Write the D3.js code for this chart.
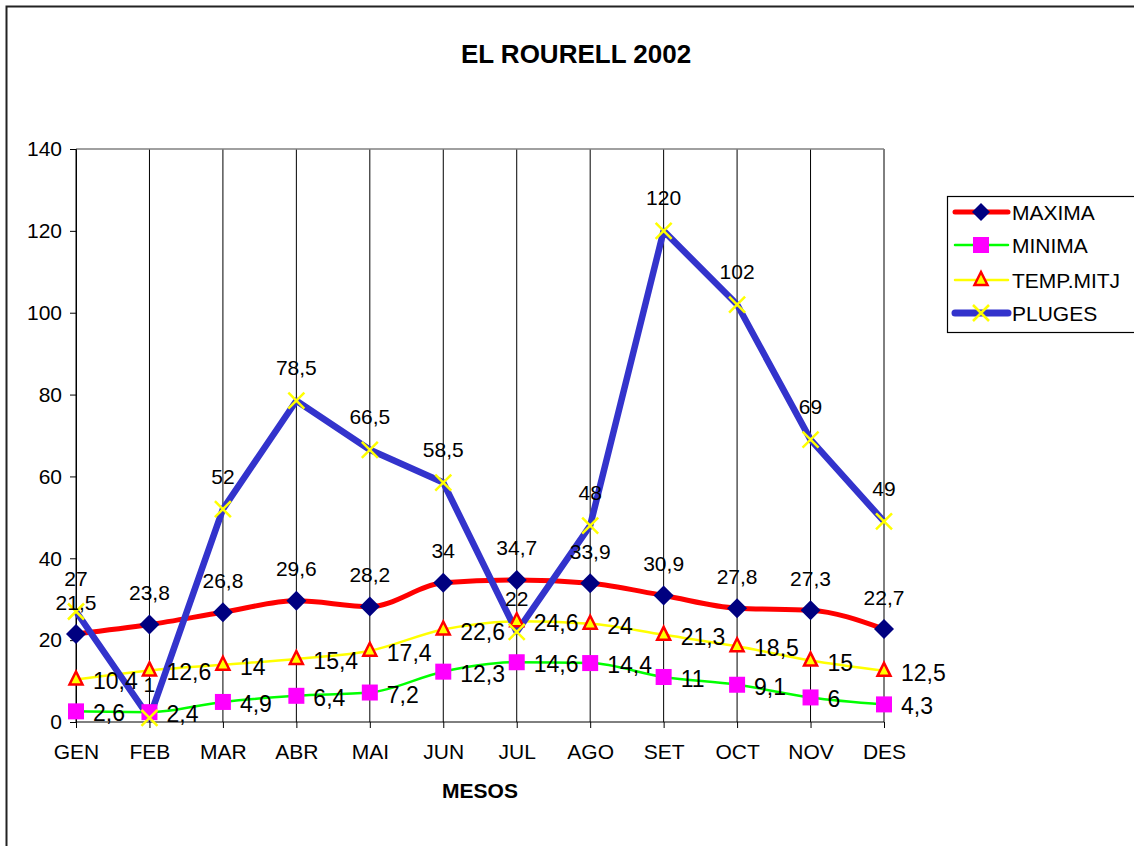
<!DOCTYPE html>
<html><head><meta charset="utf-8">
<script src="https://cdn.jsdelivr.net/npm/d3@7"></script>
<style>body{margin:0;background:#fff}svg{display:block;font-family:"Liberation Sans",Arial,sans-serif}</style>
</head><body>
<svg id="c" width="1134" height="846"></svg>
<script>
const months = ["GEN","FEB","MAR","ABR","MAI","JUN","JUL","AGO","SET","OCT","NOV","DES"];
const maxima = [21.5,23.8,26.8,29.6,28.2,34,34.7,33.9,30.9,27.8,27.3,22.7];
const minima = [2.6,2.4,4.9,6.4,7.2,12.3,14.6,14.4,11,9.1,6,4.3];
const tempMitj = [10.4,12.6,14,15.4,17.4,22.6,24.6,24,21.3,18.5,15,12.5];
const pluges = [27,1,52,78.5,66.5,58.5,22,48,120,102,69,49];
const yTicks = [0,20,40,60,80,100,120,140];
const seriesNames = ["MAXIMA","MINIMA","TEMP.MITJ","PLUGES"];

const svg = d3.select("#c");
const L = 76, R = 884, T = 149, B = 722;
const x = d3.scalePoint().domain(months).range([L, R]);
const y = d3.scaleLinear().domain([0, 140]).range([B, T]);
const fmt = v => String(v).replace(".", ",");
const FS = 21;

// outer frame
svg.append("path").attr("d", `M6.5,846 V6.5 H1134`).attr("fill","none").attr("stroke","#222").attr("stroke-width",2);

// title
svg.append("text").attr("x", 576).attr("y", 63).attr("text-anchor","middle")
  .attr("font-size", 26).attr("font-weight","bold").text("EL ROURELL 2002");

// vertical grid lines
svg.append("g").selectAll("line").data(months).join("line")
  .attr("x1", d => x(d)).attr("x2", d => x(d)).attr("y1", T).attr("y2", B)
  .attr("stroke", "#000").attr("stroke-width", 1);
// top border of plot
svg.append("line").attr("x1", L).attr("x2", R).attr("y1", T).attr("y2", T).attr("stroke","#808080").attr("stroke-width",1.5);

// axes
const yAxis = d3.axisLeft(y).tickValues(yTicks).tickSize(6).tickPadding(8);
const gy = svg.append("g").attr("transform", `translate(${L},0)`).call(yAxis);
gy.select(".domain").attr("stroke","#000");
gy.selectAll("text").attr("font-size", FS).attr("font-family","Liberation Sans, Arial, sans-serif").attr("fill","#000");
const xAxis = d3.axisBottom(x).tickSize(6).tickPadding(16);
const gx = svg.append("g").attr("transform", `translate(0,${B})`).call(xAxis);
gx.select(".domain").attr("stroke","#000").attr("d", `M${L},0H${R}`);
gx.selectAll("text").attr("font-size", FS).attr("font-family","Liberation Sans, Arial, sans-serif").attr("fill","#000");

svg.append("text").attr("x", 480).attr("y", 798).attr("text-anchor","middle")
  .attr("font-size", 21).attr("font-weight","bold").text("MESOS");

function drawLine(vals, color, width, curve) {
  svg.append("path").datum(vals)
    .attr("d", d3.line().x((d,i) => x(months[i])).y(d => y(d)).curve(curve))
    .attr("fill","none").attr("stroke", color).attr("stroke-width", width).attr("stroke-linejoin","round");
}
const diamondPath = s => `M0,${-s}L${s},0L0,${s}L${-s},0Z`;
const smooth = d3.curveMonotoneX;

drawLine(minima, "#00ff00", 2.5, smooth);
drawLine(tempMitj, "#ffff00", 2.5, smooth);
drawLine(maxima, "#ff0000", 5, smooth);
drawLine(pluges, "#3333cc", 6.5, d3.curveLinear);

function markers(vals, fn) {
  vals.forEach((v, i) => fn(svg.append("g").attr("transform", `translate(${x(months[i])},${y(v)})`)));
}
const drawSquare = g => g.append("rect").attr("x",-8).attr("y",-8).attr("width",16).attr("height",16).attr("fill","#ff00ff");
const drawTri = g => g.append("path").attr("d","M0,-8L6.5,5L-6.5,5Z").attr("fill","#ffff00").attr("stroke","#ff0000").attr("stroke-width",2.5).attr("stroke-linejoin","miter");
const drawDiam = g => g.append("path").attr("d", diamondPath(10)).attr("fill","#000080");
const drawX = g => g.append("path").attr("d","M-8,-8L8,8M-8,8L8,-8").attr("stroke","#ffff00").attr("stroke-width",2.5);

markers(minima, drawSquare);
markers(tempMitj, drawTri);
markers(maxima, drawDiam);
markers(pluges, drawX);

// labels
const lab = svg.append("g").attr("fill","#000");
function labelsAbove(vals, dy, fs) {
  vals.forEach((v,i) => lab.append("text").attr("x", x(months[i])).attr("y", y(v) - dy)
    .attr("font-size", fs).attr("text-anchor","middle").attr("dominant-baseline","central").text(fmt(v)));
}
function labelsRight(vals, dx, dy, fs) {
  vals.forEach((v,i) => lab.append("text").attr("x", x(months[i]) + dx).attr("y", y(v) + dy)
    .attr("font-size", fs).attr("text-anchor","start").attr("dominant-baseline","central").text(fmt(v)));
}
labelsRight(minima, 17, 2, 23);
labelsRight(tempMitj, 17, 2, 23);
labelsAbove(maxima, 32, 21);
labelsAbove(pluges, 33, 21);

// legend
const lg = svg.append("g");
lg.append("rect").attr("x", 947.5).attr("y", 196.5).attr("width", 200).attr("height", 136)
  .attr("fill","#fff").attr("stroke","#000").attr("stroke-width",1.2);
const legY = [212, 245, 280, 313];
const legColors = ["#ff0000","#00ff00","#ffff00","#3333cc"];
const legWidths = [5, 2.5, 2.5, 7];
const legMarkers = [drawDiam, drawSquare, drawTri, drawX];
seriesNames.forEach((n, i) => {
  lg.append("line").attr("x1", 955).attr("x2", 1008).attr("y1", legY[i]).attr("y2", legY[i])
    .attr("stroke", legColors[i]).attr("stroke-width", legWidths[i]).attr("stroke-linecap","round");
  const g = lg.append("g").attr("transform", `translate(981,${legY[i]})`);
  if (i === 0) g.append("path").attr("d", diamondPath(9)).attr("fill","#000080");
  else legMarkers[i](g);
  lg.append("text").attr("x", 1012).attr("y", legY[i]).attr("dominant-baseline","central")
    .attr("font-size", FS).text(n);
});
</script>
</body></html>
